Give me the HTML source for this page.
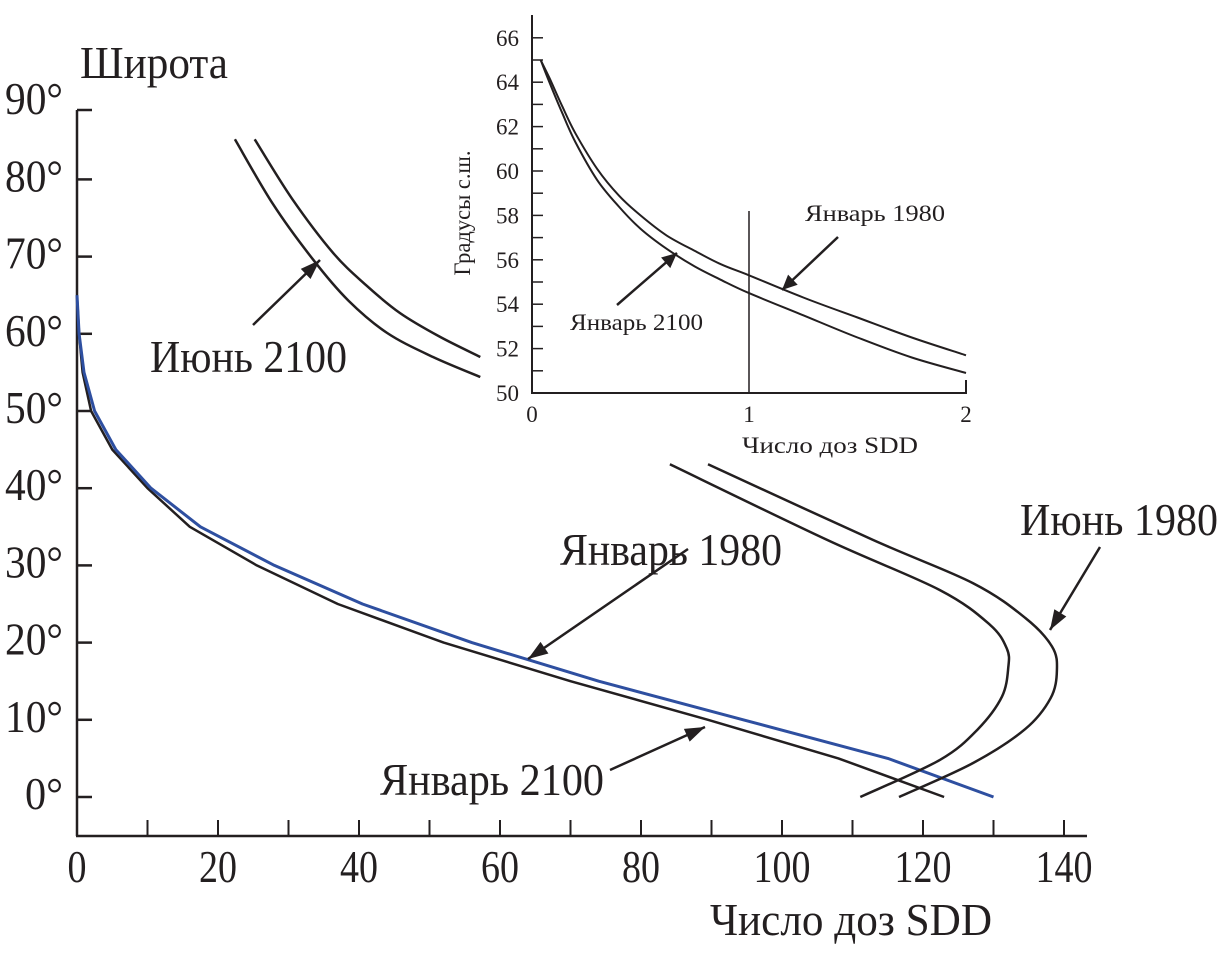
<!DOCTYPE html>
<html><head><meta charset="utf-8"><style>
body{margin:0;background:#fff}
svg text{font-family:"Liberation Serif",serif;fill:#231f20}
</style></head><body>
<svg id="chart" width="1222" height="954" viewBox="0 0 1222 954" xmlns="http://www.w3.org/2000/svg">
<g id="main"></g>
<g id="inset"></g>
</svg>
<script>
// ---- main chart data ----
const xTicks = [0,20,40,60,80,100,120,140];
const yTicks = [0,10,20,30,40,50,60,70,80];
const jan1980X = [0,0.3,1,2.5,5.5,10.5,17.5,28,40.5,56,74,94.5,115,130];
const jan1980Y = [65,60,55,50,45,40,35,30,25,20,15,10,5,0];
const jan2100X = [0,0.3,0.8,2,5,10,16,25.5,37,52,70,89.5,108,123];
const jan2100Y = [65,60,55,50,45,40,35,30,25,20,15,10,5,0];
const jun1980LowX = [89.5,112.9,127.1,134.5,138.3,139,138.1,134.5,127.1,116.6];
const jun1980LowY = [43.1,33.3,27.7,23.2,19.5,16.4,12.8,8.8,4.4,0];
const jun2100LowX = [84.1,106.4,122.4,129.5,131.9,132.1,131.2,127.8,122.4,111.1];
const jun2100LowY = [43.1,33.3,26.8,22.3,19.2,16.8,13,8.8,4.8,0];
const jun1980UpX = [25.2,30.5,36.3,41,45.8,51.5,57.2];
const jun1980UpY = [85.2,77.5,70.5,66.3,62.7,59.6,57.0];
const jun2100UpX = [22.4,27.8,33.5,38.5,44.0,50.5,57.2];
const jun2100UpY = [85.2,76.8,69.6,64.3,60.1,57.0,54.4];
// ---- inset data ----
const insetXTicks = [0,1,2];
const insetYTicks = [50,52,54,56,58,60,62,64,66];
const inJan1980X = [0.04,0.08,0.14,0.2,0.3,0.4,0.5,0.62,0.75,0.87,1,1.25,1.5,1.75,2];
const inJan1980Y = [65,64.2,62.9,61.7,60.1,58.9,58,57.1,56.4,55.8,55.3,54.3,53.4,52.5,51.7];
const inJan2100X = [0.04,0.08,0.14,0.2,0.3,0.4,0.5,0.62,0.75,0.87,1,1.25,1.5,1.75,2];
const inJan2100Y = [65,64,62.6,61.3,59.6,58.4,57.4,56.5,55.7,55.1,54.5,53.5,52.5,51.6,50.9];

const NS='http://www.w3.org/2000/svg';
function mk(parent,tag,attrs){const e=document.createElementNS(NS,tag);for(const k in attrs)e.setAttribute(k,attrs[k]);parent.appendChild(e);return e;}
const X = v => 77 + 7.05*v;
const Y = v => 797 - 7.72*v;
const IX = v => 532 + 217*v;
const IY = v => 393 - 22.2*(v-50);

function smoothPath(px,py){
  const p=px.map((x,i)=>[x,py[i]]);
  let d='M'+p[0][0].toFixed(1)+','+p[0][1].toFixed(1);
  for(let i=0;i<p.length-1;i++){
    const p0=p[Math.max(0,i-1)],p1=p[i],p2=p[i+1],p3=p[Math.min(p.length-1,i+2)];
    const c1=[p1[0]+(p2[0]-p0[0])/6,p1[1]+(p2[1]-p0[1])/6];
    const c2=[p2[0]-(p3[0]-p1[0])/6,p2[1]-(p3[1]-p1[1])/6];
    d+=' C'+c1.map(n=>n.toFixed(1))+' '+c2.map(n=>n.toFixed(1))+' '+p2.map(n=>n.toFixed(1));
  }
  return d;
}
function linePath(px,py){
  return px.map((x,i)=>(i?'L':'M')+x.toFixed(1)+','+py[i].toFixed(1)).join(' ');
}
function txt(parent,s,x,y,size,len,anchor){
  const t=mk(parent,'text',{x:x,y:y,'font-size':size});
  if(len){t.setAttribute('textLength',len);t.setAttribute('lengthAdjust','spacingAndGlyphs');}
  if(anchor)t.setAttribute('text-anchor',anchor);
  t.textContent=s;return t;
}
function arrow(parent,x1,y1,x2,y2,h){
  mk(parent,'line',{x1:x1,y1:y1,x2:x2,y2:y2,stroke:'#231f20','stroke-width':2.5});
  const a=Math.atan2(y2-y1,x2-x1),L=h||20,W=7;
  const bx=x2-L*Math.cos(a),by=y2-L*Math.sin(a);
  const px=-Math.sin(a)*W,py=Math.cos(a)*W;
  return mk(parent,'polygon',{points:`${x2},${y2} ${bx+px},${by+py} ${bx-px},${by-py}`,fill:'#231f20'});
}

const g=document.getElementById('main');
let e;
e=mk(g,'line',{x1:77,y1:110,x2:77,y2:836,stroke:'#231f20','stroke-width':2.5});


e=mk(g,'line',{x1:76,y1:836,x2:1087,y2:836,stroke:'#231f20','stroke-width':2.5});


mk(g,'line',{x1:77,y1:110,x2:92,y2:110,stroke:'#231f20','stroke-width':2.5});
yTicks.forEach(v=>{
  const t=mk(g,'line',{x1:77,y1:Y(v),x2:92,y2:Y(v),stroke:'#231f20','stroke-width':2.5});
  
  
  const s=v+'°';
  const l=txt(g,s,63,Y(v)+12,46,v===0?38:58,'end');
  
  
});
let l=txt(g,'90°',63,114,46,58,'end');


for(let v=10;v<=140;v+=10){
  const t=mk(g,'line',{x1:X(v),y1:836,x2:X(v),y2:820,stroke:'#231f20','stroke-width':2});
  
  
}
xTicks.forEach(v=>{
  const s=String(v);
  const l=txt(g,s,X(v),882,46,s.length*19,'middle');
  
  
});
l=txt(g,'Широта',80,78,46,148);


l=txt(g,'Число доз SDD',710,935,46,282);



function series(px,py,sx,sy,color,w,name,par,straight){
  const xs=px.map(sx),ys=py.map(sy);
  const p=mk(par,'path',{d:straight?linePath(xs,ys):smoothPath(xs,ys),fill:'none',stroke:color,'stroke-width':w,'stroke-linejoin':'round'});
  
  
}
series(jan2100X,jan2100Y,X,Y,'#231f20',2.5,'line-january-2100',g,true);
series(jan1980X,jan1980Y,X,Y,'#2e4fa0',3,'line-january-1980',g,true);
series(jun1980LowX,jun1980LowY,X,Y,'#231f20',2.5,'line-june-1980-lower',g);
series(jun2100LowX,jun2100LowY,X,Y,'#231f20',2.5,'line-june-2100-lower',g);
series(jun1980UpX,jun1980UpY,X,Y,'#231f20',2.5,'line-june-1980-upper',g);
series(jun2100UpX,jun2100UpY,X,Y,'#231f20',2.5,'line-june-2100-upper',g);

e=arrow(g,253,325,320,260);


l=txt(g,'Июнь 2100',150,372,46,197);


e=arrow(g,688,549,528,659);


l=txt(g,'Январь 1980',560,565,46,222);


e=arrow(g,610,770,705,727);


l=txt(g,'Январь 2100',380,795,46,224);


e=arrow(g,1100,547,1050,630);


l=txt(g,'Июнь 1980',1020,535,46,198);



// ---- inset ----
const h=document.getElementById('inset');
e=mk(h,'line',{x1:532,y1:15,x2:532,y2:394,stroke:'#231f20','stroke-width':2});


e=mk(h,'line',{x1:531,y1:393,x2:967,y2:393,stroke:'#231f20','stroke-width':2});


mk(h,'line',{x1:966,y1:393,x2:966,y2:380,stroke:'#231f20','stroke-width':2});
for(let v=51;v<=66;v++){
  const t=mk(h,'line',{x1:532,y1:IY(v),x2:543,y2:IY(v),stroke:'#231f20','stroke-width':1.5});
  
  
}
insetYTicks.forEach(v=>{
  const l=txt(h,String(v),519,IY(v)+8,23,null,'end');
  
  
});
insetXTicks.forEach(v=>{
  const l=txt(h,String(v),IX(v),422,23,null,'middle');
  
  
});
l=txt(h,'Число доз SDD',742,453,23,176);


l=txt(h,'Градусы с.ш.',0,0,23,125,'middle');
l.setAttribute('transform','translate(470,213) rotate(-90)');


e=mk(h,'line',{x1:IX(1),y1:IY(58.2),x2:IX(1),y2:393,stroke:'#231f20','stroke-width':1.5});


series(inJan1980X,inJan1980Y,IX,IY,'#231f20',2,'inset-line-january-1980',h);
series(inJan2100X,inJan2100Y,IX,IY,'#231f20',2,'inset-line-january-2100',h);
e=arrow(h,838,237,782,290,15);


l=txt(h,'Январь 1980',805,221,23,140);


e=arrow(h,617,305,677,253,15);


l=txt(h,'Январь 2100',570,330,23,133);


</script>
</body></html>
